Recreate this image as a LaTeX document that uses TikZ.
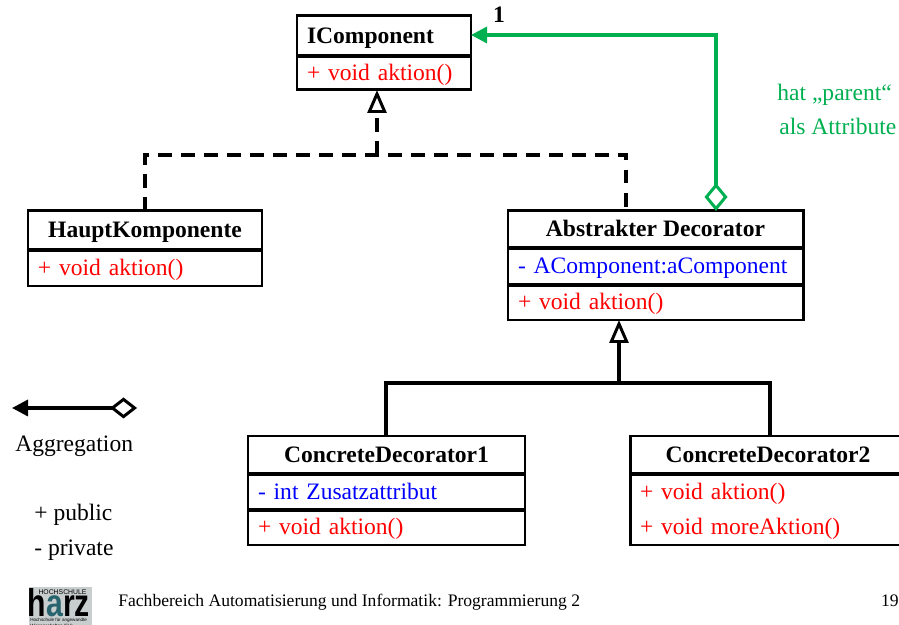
\documentclass[tikz,border=0pt]{standalone}
\usepackage{fontspec}
\setmainfont{Liberation Serif}
\newfontfamily\logofont{Liberation Sans}
\usetikzlibrary{positioning,arrows.meta}
\definecolor{hatgreen}{RGB}{0,176,80}
\definecolor{logogray}{RGB}{200,205,205}
\definecolor{logoteal}{RGB}{40,100,110}
\tikzset{
    classbox/.style={draw, line width=1.7pt, rectangle, outer sep=0pt, inner sep=0pt,
        text height=2.1ex, text depth=0.36ex, font=\fontsize{13.4pt}{15pt}\selectfont},
    classname/.style={classbox, font=\fontsize{13.4pt}{15pt}\selectfont\bfseries},
    member/.style={classbox, align=left, inner xsep=0.2cm},
    label/.style={inner sep=0pt, text height=2.1ex, text depth=0.36ex, font=\fontsize{13.4pt}{15pt}\selectfont},
    line/.style={line width=1.9pt},
    divider/.style={line width=2.3pt},
    realise/.style={line, -{Triangle[open, length=0.46cm, width=0.38cm, line width=1.7pt]}},
    own/.style={line, {Diamond[open, length=0.56cm, width=0.46cm, line width=1.7pt]}-{Triangle[length=0.32cm, width=0.32cm]}}
}
\begin{document}
\begin{tikzpicture}
\useasboundingbox (0,0) rectangle (17.98,12.5);
% IComponent
\node[member, font=\fontsize{13.4pt}{15pt}\selectfont\bfseries, anchor=north west, text width=3.08cm, minimum height=0.8cm] (icomp) at (5.94,12.18) {IComponent};
\node[member, text=red, text width=3.08cm, minimum height=0.68cm, below=0pt of icomp] (icompm) {+ void aktion()};
\draw[divider] (icomp.south west) -- (icomp.south east);
% HauptKomponente
\node[classname, anchor=north west, minimum width=4.68cm, minimum height=0.78cm] (haupt) at (0.56,8.28) {HauptKomponente};
\node[member, text=red, text width=4.28cm, minimum height=0.72cm, below=0pt of haupt] (hauptm) {+ void aktion()};
\draw[divider] (haupt.south west) -- (haupt.south east);
% Abstrakter Decorator
\node[classname, anchor=north west, minimum width=5.9cm, minimum height=0.74cm] (abstr) at (10.16,8.28) {Abstrakter Decorator};
\node[member, text=blue, text width=5.5cm, minimum height=0.74cm, below=0pt of abstr] (abstra) {- AComponent:aComponent};
\node[member, text=red, text width=5.5cm, minimum height=0.7cm, below=0pt of abstra] (abstrm) {+ void aktion()};
\draw[divider] (abstr.south west) -- (abstr.south east);
\draw[divider] (abstra.south west) -- (abstra.south east);
% ConcreteDecorator1
\node[classname, anchor=north west, minimum width=5.54cm, minimum height=0.76cm] (conc) at (4.96,3.78) {ConcreteDecorator1};
\node[member, text=blue, text width=5.14cm, minimum height=0.72cm, below=0pt of conc] (conca) {- int Zusatzattribut};
\node[member, text=red, text width=5.14cm, minimum height=0.7cm, below=0pt of conca] (concm) {+ void aktion()};
\draw[divider] (conc.south west) -- (conc.south east);
\draw[divider] (conca.south west) -- (conca.south east);
% ConcreteDecorator2
\node[classname, anchor=north west, minimum width=5.52cm, minimum height=0.76cm] (concb) at (12.6,3.78) {ConcreteDecorator2};
\node[member, text=red, draw=none, text width=5.12cm, minimum height=0.72cm, below=0pt of concb] (concba) {+ void aktion()};
\node[member, text=red, draw=none, text width=5.12cm, minimum height=0.7cm, below=0pt of concba] (concbm) {+ void moreAktion()};
\draw[divider] (concb.south west) -- (concb.south east);
\draw[line width=1.7pt] (concba.north west) -- (concbm.south west) -- (concbm.south east);
% connectors
\coordinate (dashtop) at (7.54,9.4);
\coordinate (dashleft) at (2.9,9.4);
\coordinate (dashright) at (12.52,9.4);
\draw[line, dash pattern=on 0.27cm off 0.19cm] (dashleft |- haupt.north) -- (dashleft) -- (dashright) -- (dashright |- abstr.north);
\draw[realise, dash pattern=on 0.27cm off 0.19cm] (dashtop) -- (dashtop |- icompm.south);
\coordinate (joinleft) at (7.72,4.84);
\coordinate (joinright) at (15.4,4.84);
\coordinate (joinmid) at (12.38,4.84);
\draw[line] (joinleft |- conc.north) -- (joinleft) -- (joinright) -- (joinright |- concb.north);
\draw[realise] (joinmid) -- (joinmid |- abstrm.south);
% green link
\coordinate (bend) at (14.32,11.8);
\draw[own, hatgreen] (bend |- abstr.north) -- (bend) -- (icomp.east |- bend);
\node[label, font=\fontsize{13.4pt}{15pt}\selectfont\bfseries] (one) at (9.98,12.2) {1};
\node[label, text=hatgreen, anchor=west] (hat) at (15.54,10.64) {hat „parent“};
\node[label, text=hatgreen, anchor=west] (attr) at (15.58,9.96) {als Attribute};
% legend
\coordinate (aggleft) at (0.24,4.34);
\coordinate (aggright) at (2.74,4.34);
\draw[line, {Triangle[length=0.32cm, width=0.32cm]}-{Diamond[open, length=0.54cm, width=0.42cm, line width=1.7pt]}] (aggleft) -- (aggright);
\node[label, anchor=west] (agg) at (0.3,3.62) {Aggregation};
\node[label, anchor=west] (pub) at (0.68,2.24) {+ public};
\node[label, anchor=west] (priv) at (0.68,1.54) {- private};
% footer
\node[label, anchor=west, font=\fontsize{10pt}{12pt}\selectfont] (foot) at (2.36,0.52) {Fachbereich Automatisierung und Informatik: Programmierung 2};
\node[label, anchor=east, font=\fontsize{10pt}{12pt}\selectfont] (page) at (17.98,0.52) {19};
% logo
\fill[logogray] (0.58,0) rectangle (1.84,0.76);
\node[inner sep=0pt, font=\logofont\fontsize{3.9pt}{4pt}\selectfont] (hs) at (1.25,0.66) {HOCHSCHULE};
\node[inner sep=0pt, xscale=0.78, transform shape, font=\logofont\fontsize{22pt}{22pt}\selectfont\bfseries, anchor=base] (harz) at (1.18,0.16) {h\textcolor{logoteal}{a}rz};
\node[inner sep=0pt, align=left, font=\logofont\fontsize{2.6pt}{2.4pt}\selectfont, anchor=north west] (hsa) at (0.6,0.15) {Hochschule für angewandte\\Wissenschaften (FH)};
\end{tikzpicture}
\end{document}
